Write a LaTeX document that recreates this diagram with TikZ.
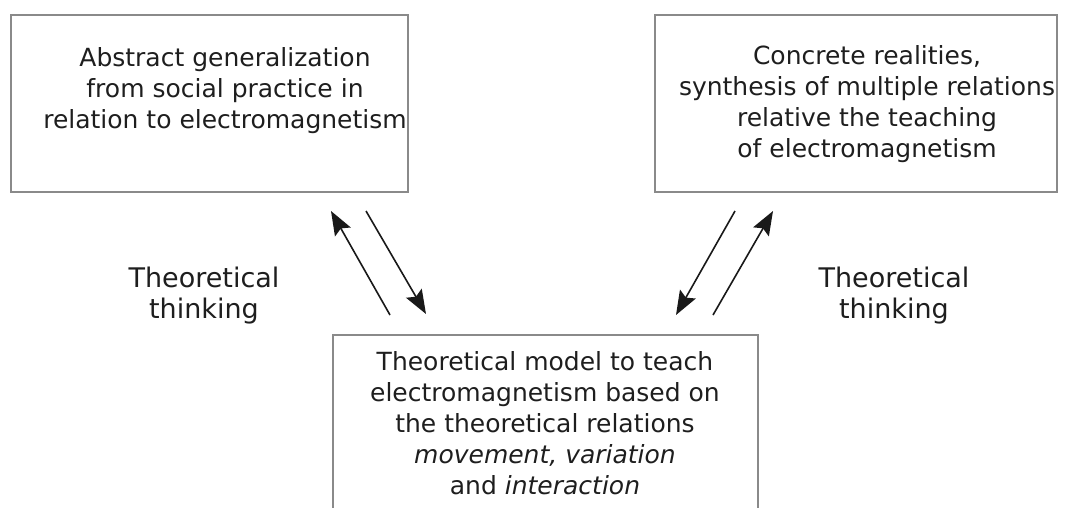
\documentclass[tikz,border=0pt]{standalone}
\usepackage{fontspec}
\setmainfont{DejaVu Sans}
\usetikzlibrary{arrows.meta}
\definecolor{txt}{HTML}{1E1E1E}
\definecolor{frame}{HTML}{8A8A8A}
\tikzset{
  boxtext/.style={align=center, text=txt, inner sep=0pt, font=\fontsize{25}{31}\selectfont},
  labeltext/.style={align=center, text=txt, inner sep=0pt, font=\fontsize{27}{31}\selectfont},
  frameline/.style={draw=frame, line width=1.3pt},
  flow/.style={draw=black!90, line width=1.6pt, arrows={-Stealth[length=24pt,width=18pt,inset=4pt]}}
}
\begin{document}
\begin{tikzpicture}[x=1pt,y=-1pt]
\useasboundingbox (0,0) rectangle (1067,507);
% boxes
\node[frameline, minimum width=397pt, minimum height=177pt, inner sep=0pt] (abs) at (209.5,103.5) {};
\node[frameline, minimum width=402pt, minimum height=177pt, inner sep=0pt] (con) at (856,103.5) {};
\coordinate (mbl) at (333,508);
\coordinate (mtl) at (333,335);
\coordinate (mtr) at (758,335);
\coordinate (mbr) at (758,508);
\draw[frameline] (mbl) -- (mtl) -- (mtr) -- (mbr);
% texts
\node[boxtext] (abstxt) at (225,91) {Abstract generalization\\from social practice in\\relation to electromagnetism};
\node[boxtext] (contxt) at (867,104) {Concrete realities,\\synthesis of multiple relations\\relative the teaching\\of electromagnetism};
\node[boxtext] (modtxt) at (545,423) {Theoretical model to teach\\electromagnetism based on\\the theoretical relations\\\textit{movement, variation}\\and \textit{interaction}};
\node[labeltext] (lab1) at (204,296) {Theoretical\\thinking};
\node[labeltext] (lab2) at (894,296) {Theoretical\\thinking};
% arrow endpoints
\coordinate (a1s) at (390,315);
\coordinate (a1e) at (331,211);
\coordinate (a2s) at (366,211);
\coordinate (a2e) at (426,314);
\coordinate (a3s) at (735,211);
\coordinate (a3e) at (676,315);
\coordinate (a4s) at (713,315);
\coordinate (a4e) at (773,211);
\draw[flow] (a1s) -- (a1e);
\draw[flow] (a2s) -- (a2e);
\draw[flow] (a3s) -- (a3e);
\draw[flow] (a4s) -- (a4e);
\end{tikzpicture}
\end{document}
